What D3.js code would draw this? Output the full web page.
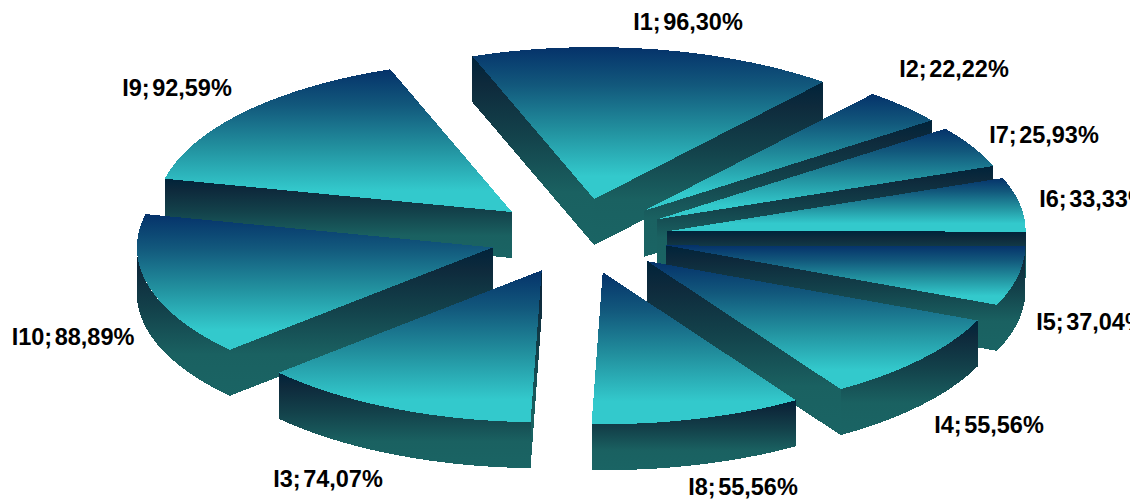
<!DOCTYPE html>
<html>
<head>
<meta charset="utf-8">
<style>
  html, body { margin: 0; padding: 0; background: #fff; overflow: hidden; }
  svg { display: block; }
  text { font-family: "Liberation Sans", Arial, sans-serif; font-weight: 700; font-size: 23.5px; word-spacing: -4px; fill: #000; }
</style>
<script src="https://cdn.jsdelivr.net/npm/d3@7"></script>
</head>
<body>
<script>
// Item shares, in clockwise order around the pie
const categories = ["I1", "I2", "I7", "I6", "I5", "I4", "I8", "I3", "I10", "I9"];
const shares = [96.30, 22.22, 25.93, 33.33, 37.04, 55.56, 55.56, 74.07, 88.89, 92.59];

// Painting order: each slice overlaps the one before it on its own side of the pie
const paintOrder = ["I9", "I10", "I3", "I1", "I2", "I7", "I6", "I5", "I4", "I8"];

// Label centres, keyed by category
const labelCentres = {
  I1: [688, 22], I2: [954, 69], I7: [1044, 135], I6: [1094, 199], I5: [1091, 322],
  I4: [989, 425], I8: [743, 487], I3: [328, 479], I10: [73, 337], I9: [177, 88]
};

const width = 1130, height = 502;
const cx = 579, cy = 238.5;
const rxRight = 359, rxLeft = 356, ry = 152, depth = 46;
const explodeX = 89.2, explodeBack = 40, explodeFront = 35;
const rad = Math.PI / 180;

const svg = d3.select("body").append("svg").attr("width", width).attr("height", height);
const defs = svg.append("defs");

function gradient(id, stops) {
  const g = defs.append("linearGradient").attr("id", id)
    .attr("x1", 0).attr("y1", 0).attr("x2", 0).attr("y2", 1);
  stops.forEach(([o, c]) => g.append("stop").attr("offset", o).attr("stop-color", c));
}
gradient("face", [[0, "#05326a"], [0.25, "#12587c"], [0.55, "#22919f"], [0.85, "#33c9cc"], [1, "#33c9cc"]]);
gradient("wall", [[0, "#00233a"], [0.15, "#0e2a3c"], [0.42, "#13424b"], [0.72, "#1a6161"], [1, "#1a6464"]]);

const pie = d3.pie().sort(null).value(d => d.share)
  .startAngle(-20 * rad).endAngle(340 * rad);
const arcs = pie(categories.map((name, i) => ({ name, share: shares[i] })));

const line = d3.line().x(d => d[0]).y(d => d[1]);
const closed = pts => line(pts) + "Z";

function drawSlice(a) {
  const mid = (a.startAngle + a.endAngle) / 2;
  const ax = cx + explodeX * Math.sin(mid);
  const ay = cy - (Math.cos(mid) > 0 ? explodeBack : explodeFront) * Math.cos(mid);
  const rim = t => {
    const s = Math.sin(t);
    return [ax + (s > 0 ? rxRight : rxLeft) * s, ay - ry * Math.cos(t)];
  };
  const down = p => [p[0], p[1] + depth];
  const rimPoints = (t0, t1) => {
    const steps = Math.max(1, Math.ceil((t1 - t0) / (3.5 * rad)));
    return d3.range(steps + 1).map(i => rim(t0 + (t1 - t0) * i / steps));
  };

  const g = svg.append("g").attr("class", "slice").attr("shape-rendering", "crispEdges");
  const wall = pts => g.append("path").attr("d", closed(pts)).attr("fill", "url(#wall)");
  const apex = [ax, ay];

  // Cut faces turned towards the viewer
  if (Math.sin(a.startAngle) < 0) {
    const p = rim(a.startAngle);
    wall([apex, p, down(p), down(apex)]);
  }
  if (Math.sin(a.endAngle) > 0) {
    const p = rim(a.endAngle);
    wall([apex, p, down(p), down(apex)]);
  }

  // Outer rim, visible on the front half only
  const t0 = Math.max(a.startAngle, 90 * rad), t1 = Math.min(a.endAngle, 270 * rad);
  if (t1 > t0) {
    const top = rimPoints(t0, t1);
    wall(top.concat(top.map(down).reverse()));
  }

  // Top face
  g.append("path")
    .attr("d", closed([apex].concat(rimPoints(a.startAngle, a.endAngle))))
    .attr("fill", "url(#face)");
}

paintOrder.forEach(name => drawSlice(arcs.find(a => a.data.name === name)));

const fmt = v => v.toFixed(2).replace(".", ",") + "%";
svg.append("g").selectAll("text").data(arcs).join("text")
  .attr("x", d => labelCentres[d.data.name][0])
  .attr("y", d => labelCentres[d.data.name][1])
  .attr("text-anchor", "middle")
  .attr("dominant-baseline", "central")
  .text(d => `${d.data.name}; ${fmt(d.data.share)}`);
</script>
</body>
</html>
